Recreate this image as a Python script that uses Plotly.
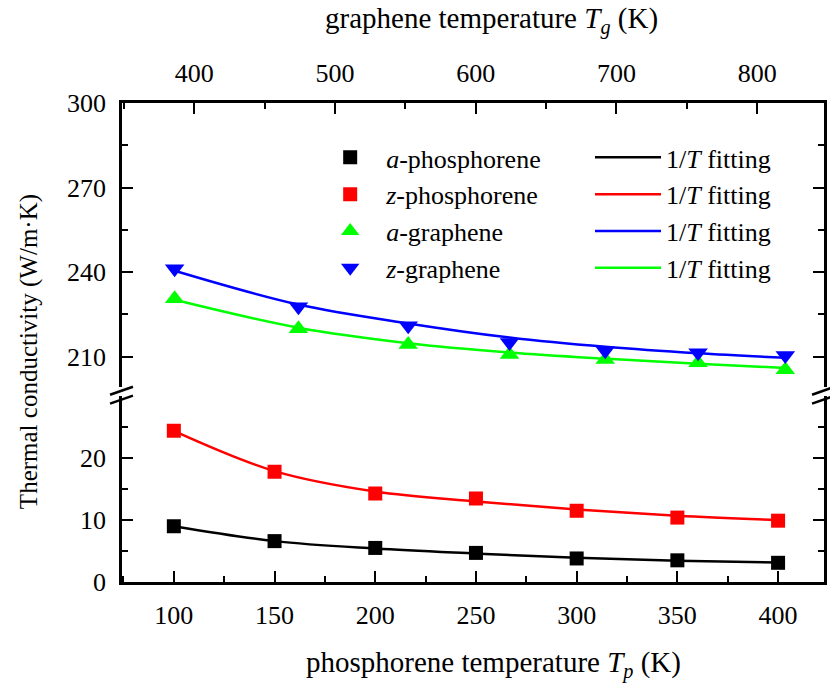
import plotly.graph_objects as go

# ---------------- data ----------------
T_p = [100, 150, 200, 250, 300, 350, 400]                 # phosphorene temperature (K)
kappa_a_phos = [9.0, 6.6, 5.5, 4.7, 3.8, 3.5, 3.1]        # a-phosphorene (points)
kappa_z_phos = [24.4, 17.8, 14.3, 13.5, 11.5, 10.4, 9.9]  # z-phosphorene (points)
fit_a_phos = [9.0, 6.6, 5.4, 4.6, 3.9, 3.45, 3.15]        # 1/T fitting curve read at T_p
fit_z_phos = [24.4, 17.9, 14.6, 13.0, 11.7, 10.7, 10.0]

T_g = [386, 474, 552, 624, 692, 758, 820]                 # graphene temperature (K)
kappa_a_gra = [230.6, 219.9, 214.3, 210.8, 209.0, 207.9, 205.4]  # a-graphene (points)
kappa_z_gra = [241.2, 227.7, 221.0, 215.0, 212.1, 211.4, 210.4]  # z-graphene (points)
fit_a_gra = [230.2, 220.3, 214.8, 211.5, 209.3, 207.5, 206.0]    # 1/T fitting curve read at T_g
fit_z_gra = [240.5, 228.5, 221.8, 216.8, 213.5, 211.2, 209.6]

names = ["<i>a</i>-phosphorene", "<i>z</i>-phosphorene", "<i>a</i>-graphene", "<i>z</i>-graphene"]
fit_label = "1/<i>T</i> fitting"

# ---------------- geometry ----------------
W, H = 830, 691
PX_L, PX_R, PY_T, PY_B = 122, 827, 103, 582.5
def xp(px): return (px - PX_L) / (PX_R - PX_L)
def yp(py): return (PY_B - py) / (PY_B - PY_T)

UP_BOT, LO_TOP = 387, 396
FONT = "Liberation Serif"
BLACK, RED, GREEN, BLUE = "#000000", "#FF0000", "#00FF00", "#0000FF"

fig = go.Figure()

# fitting lines (legend2)
fits = [
    (T_p, fit_a_phos, BLACK, "x", "y", 1),
    (T_p, fit_z_phos, RED, "x", "y", 2),
    (T_g, fit_z_gra, BLUE, "x2", "y2", 3),
    (T_g, fit_a_gra, GREEN, "x2", "y2", 4),
]
for x, y, c, xa, ya, rk in fits:
    fig.add_trace(go.Scatter(x=x, y=y, mode="lines", line=dict(color=c, width=2.5, shape="spline", smoothing=1.0),
                             name=fit_label, legend="legend2", legendrank=rk,
                             xaxis=xa, yaxis=ya))

# data markers (legend)
marks = [
    (T_p, kappa_a_phos, BLACK, "square", 14, "x", "y", names[0], 1),
    (T_p, kappa_z_phos, RED, "square", 14, "x", "y", names[1], 2),
    (T_g, kappa_a_gra, GREEN, "triangle-up", 17, "x2", "y2", names[2], 3),
    (T_g, kappa_z_gra, BLUE, "triangle-down", 17, "x2", "y2", names[3], 4),
]
for x, y, c, sym, sz, xa, ya, nm, rk in marks:
    fig.add_trace(go.Scatter(x=x, y=y, mode="markers", marker=dict(color=c, symbol=sym, size=sz, line=dict(width=0)),
                             name=nm, legend="legend", legendrank=rk,
                             xaxis=xa, yaxis=ya))

tickfont = dict(family=FONT, size=26, color="black")
axis_common = dict(showline=True, linecolor="black", linewidth=2.5, ticks="inside", tickcolor="black",
                   tickwidth=2, ticklen=11, showgrid=False, zeroline=False, tickfont=tickfont)
minor_common = dict(ticks="inside", ticklen=6, tickwidth=2, tickcolor="black")

fig.update_layout(
    width=W, height=H, paper_bgcolor="white", plot_bgcolor="white",
    margin=dict(l=PX_L, r=W - PX_R, t=PY_T, b=H - PY_B),
    font=dict(family=FONT, size=26, color="black"),
    xaxis=dict(**axis_common, range=[74.26, 422.8], anchor="y", side="bottom", dtick=50, tick0=0,
               minor=dict(dtick=25, tick0=0, **minor_common), ticklabelstandoff=8),
    xaxis2=dict(**axis_common, range=[348.6, 847.5], anchor="y2", side="top", overlaying="x", dtick=100, tick0=0,
                minor=dict(dtick=50, tick0=0, **minor_common), ticklabelstandoff=8),
    yaxis=dict(**axis_common, domain=[0, yp(LO_TOP)], range=[0, (PY_B - LO_TOP) / 6.2], anchor="x",
               tickmode="array", tickvals=[0, 10, 20], mirror="ticks",
               minor=dict(tickmode="array", tickvals=[5, 15, 25], **minor_common), ticklabelstandoff=8),
    yaxis2=dict(**axis_common, domain=[yp(UP_BOT), 1], range=[300 - (UP_BOT - PY_T) / 2.822, 300], anchor="x2",
                tickmode="array", tickvals=[210, 240, 270, 300], mirror="ticks",
                minor=dict(tickmode="array", tickvals=[225, 255, 285], **minor_common), ticklabelstandoff=8),
    legend=dict(x=xp(315), y=yp(134), xanchor="left", yanchor="top", bgcolor="rgba(0,0,0,0)",
                font=dict(family=FONT, size=26, color="black"), itemwidth=62, tracegroupgap=0),
    legend2=dict(x=xp(592), y=yp(134), xanchor="left", yanchor="top", bgcolor="rgba(0,0,0,0)",
                 font=dict(family=FONT, size=26, color="black"), itemwidth=66, tracegroupgap=0),
    showlegend=True,
)

# axis titles
title_font = dict(family=FONT, size=29, color="black")
fig.add_annotation(text="Thermal conductivity (W/m·K)", xref="paper", yref="paper",
                   x=xp(28), y=yp(352), xanchor="center", yanchor="middle", textangle=-90,
                   showarrow=False, font=dict(family=FONT, size=25, color="black"))
fig.add_annotation(text="graphene temperature <i>T</i><sub><i>g</i></sub> (K)", xref="paper", yref="paper",
                   x=xp(493), y=yp(20), xanchor="center", yanchor="middle", showarrow=False, font=title_font)
fig.add_annotation(text="phosphorene temperature <i>T</i><sub><i>p</i></sub> (K)", xref="paper", yref="paper",
                   x=xp(495), y=yp(665), xanchor="center", yanchor="middle", showarrow=False, font=title_font)

# axis-break marks
for cx in (PX_L, PX_R):
    for dy in (0, 9):
        fig.add_shape(type="line", xref="paper", yref="paper",
                      x0=xp(cx - 12), y0=yp(395 + dy), x1=xp(cx + 11), y1=yp(387 + dy),
                      line=dict(color="black", width=2.5))

fig.write_html("out.html")
